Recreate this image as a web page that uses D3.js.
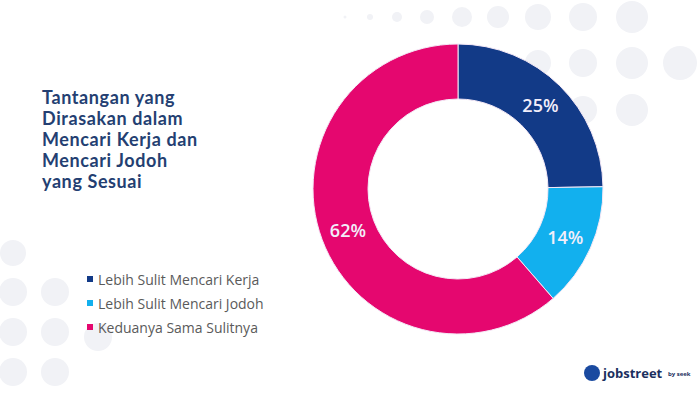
<!DOCTYPE html>
<html>
<head>
<meta charset="utf-8">
<script src="https://cdn.jsdelivr.net/npm/d3@7"></script>
<style>
  body { margin: 0; background: #fff; }
  svg { display: block; font-family: "Open Sans", "Noto Sans", sans-serif; }
</style>
</head>
<body>
<div id="chart"></div>
<script>
// Data
const categories = ["Lebih Sulit Mencari Kerja", "Lebih Sulit Mencari Jodoh", "Keduanya Sama Sulitnya"];
const values = [25, 14, 62];
const colors = ["#123a87", "#12b0ee", "#e5076f"];
const titleLines = ["Tantangan yang", "Dirasakan dalam", "Mencari Kerja dan", "Mencari Jodoh", "yang Sesuai"];

// Decorative background dots [x, y, r]
const dots = [
  [345, 17, 1.5], [370, 17, 3], [397, 17, 5], [427, 17, 7], [462, 17, 10],
  [498, 17, 11], [538, 17, 13], [583, 17, 14], [632, 17, 16],
  [538, 63, 13], [583, 63, 14], [632, 63, 16], [680, 63, 17],
  [583, 110, 14], [632, 110, 16],
  [13, 253, 13], [13, 292, 14], [55, 292, 14], [13, 332, 14], [55, 332, 14],
  [98, 337, 14], [13, 372, 14], [55, 372, 14]
];

const width = 700, height = 393;

const svg = d3.select("#chart")
    .append("svg")
    .attr("width", width)
    .attr("height", height);

// Background dots
svg.append("g")
    .selectAll("circle")
    .data(dots)
    .enter()
    .append("circle")
    .attr("cx", d => d[0])
    .attr("cy", d => d[1])
    .attr("r", d => d[2])
    .attr("fill", "#f1f2f6");

// Title, one text per line
svg.append("g")
    .selectAll("text")
    .data(titleLines)
    .enter()
    .append("text")
    .attr("x", 42)
    .attr("y", (d, i) => 104 + i * 21)
    .attr("fill", "#243f72")
    .attr("font-family", "Lato, sans-serif")
    .attr("font-size", 18)
    .attr("font-weight", 700)
    .attr("letter-spacing", 0.6)
    .text(d => d);

// Donut
const cx = 458, cy = 189;
const outerR = 145, innerR = 90;

const pie = d3.pie().sort(null).value(d => d);
const arc = d3.arc().innerRadius(innerR).outerRadius(outerR);
const color = d3.scaleOrdinal().domain(categories).range(colors);

const g = svg.append("g")
    .attr("transform", `translate(${cx}, ${cy})`);

const arcs = pie(values);

g.selectAll("path")
    .data(arcs)
    .enter()
    .append("path")
    .attr("d", arc)
    .attr("fill", (d, i) => color(categories[i]))
    .attr("stroke", "#f4e8f6")
    .attr("stroke-width", 1);

g.selectAll("text.label")
    .data(arcs)
    .enter()
    .append("text")
    .attr("class", "label")
    .attr("transform", d => `translate(${arc.centroid(d)})`)
    .attr("text-anchor", "middle")
    .attr("dominant-baseline", "central")
    .attr("fill", "#f2eefa")
    .attr("font-size", 18)
    .attr("font-weight", 600)
    .text(d => d.data + "%");

// Legend
const legend = svg.append("g")
    .attr("transform", "translate(87, 279)");

categories.forEach((cat, i) => {
    legend.append("rect")
        .attr("x", 0)
        .attr("y", i * 24 - 3)
        .attr("width", 6)
        .attr("height", 6)
        .attr("fill", color(cat));

    legend.append("text")
        .attr("x", 11)
        .attr("y", i * 24)
        .attr("dominant-baseline", "central")
        .attr("fill", "#5a5a5a")
        .attr("font-size", 14)
        .text(cat);
});

// Logo
const logo = svg.append("g")
    .attr("transform", "translate(592, 373)");

logo.append("circle")
    .attr("r", 8)
    .attr("fill", "#1a4aa0");

logo.append("text")
    .attr("x", 11)
    .attr("y", 0)
    .attr("dominant-baseline", "central")
    .attr("fill", "#1b2f5e")
    .attr("font-size", 13)
    .attr("font-weight", 700)
    .text("jobstreet");

logo.append("text")
    .attr("x", 76)
    .attr("y", 1)
    .attr("dominant-baseline", "central")
    .attr("fill", "#1b2f5e")
    .attr("font-size", 6)
    .attr("font-weight", 700)
    .text("by seek");
</script>
</body>
</html>
